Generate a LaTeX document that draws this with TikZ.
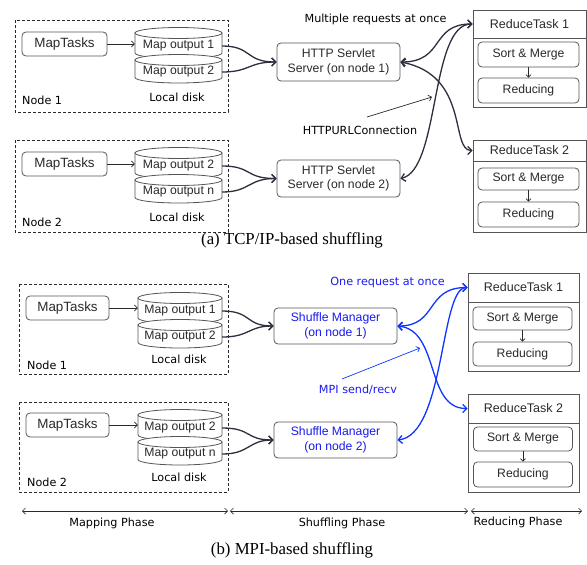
\documentclass[tikz,border=0pt]{standalone}
\usepackage{fontspec}
\setmainfont{Liberation Sans}
\newfontfamily\labfont{DejaVu Sans}
\newfontfamily\capfont{Liberation Serif}
\usetikzlibrary{arrows.meta}
\definecolor{ink}{HTML}{2A2A2A}
\definecolor{edge}{HTML}{555555}
\definecolor{curvecol}{HTML}{2E2E3E}
\definecolor{mpiblue}{HTML}{1035FF}
\definecolor{txtblue}{HTML}{1A1AF0}
\newcommand\dcyl[4]{%
  \draw[cylline] ({#1-#2},#3) -- ({#1-#2},#4) arc[start angle=180,end angle=360,x radius=#2pt,y radius=5.5pt] -- ({#1+#2},#3) -- cycle;
  \draw[cylline] (#1,#3) ellipse[x radius=#2pt,y radius=5.5pt];}
\begin{document}
\begin{tikzpicture}[x=1pt,y=-1pt,
  box/.style={draw=edge, line width=0.8pt, rounded corners=4pt, fill=white, inner sep=0pt, align=center, text=ink, font=\fontsize{12.2}{14.5}\selectfont},
  sqbox/.style={draw=edge, line width=0.8pt, fill=white, inner sep=0pt, text=ink, font=\fontsize{12.5}{15}\selectfont},
  dashbox/.style={draw=ink, dash pattern=on 3pt off 2pt, line width=0.8pt},
  cylline/.style={draw=edge, fill=white, line width=0.8pt},
  cyltext/.style={inner sep=0pt, text=ink, minimum height=12pt, font=\fontsize{12.2}{14.5}\selectfont},
  lab/.style={inner sep=0pt, text=black, font=\labfont\fontsize{11.2}{13}\selectfont},
  blab/.style={lab, text=txtblue},
  caption/.style={inner sep=0pt, text=black, font=\capfont\fontsize{16.8}{19}\selectfont},
  conn/.style={draw=curvecol, line width=1.3pt, -{Straight Barb[length=4pt,width=8pt]}},
  curv/.style={draw=curvecol, line width=1.3pt, {Straight Barb[length=4pt,width=8pt]}-{Straight Barb[length=4pt,width=8pt]}},
  bcurv/.style={draw=mpiblue, line width=1.3pt, {Straight Barb[length=4pt,width=8pt]}-{Straight Barb[length=4pt,width=8pt]}},
  thinarr/.style={draw=ink, line width=0.7pt, -{Straight Barb[length=3pt,width=6pt]}},
  smallarr/.style={draw=ink, line width=0.7pt, -{Straight Barb[length=2.5pt,width=5pt]}},
  phase/.style={draw=ink, line width=0.7pt, {Straight Barb[length=3pt,width=6pt]}-{Straight Barb[length=3pt,width=6pt]}}
]
\useasboundingbox (0,0) rectangle (587,565);

% ================= (a) =================
\draw[dashbox] (15,20) rectangle (228,112);
\node[box, minimum width=85pt, minimum height=24pt, font=\fontsize{13.4}{15}\selectfont] (ma1) at (64.5,44) {MapTasks};
\dcyl{178.5}{43.5}{33}{53}
\dcyl{178.5}{43.5}{60}{77.5}
\node[cyltext, minimum width=87pt] (oa11) at (178.5,46) {Map output 1};
\node[cyltext, minimum width=87pt] (oa12) at (178.5,72) {Map output 2};
\node[lab] (lda1) at (177,97) {Local disk};
\node[lab, anchor=west] (na1) at (22,100) {Node 1};
\draw[thinarr] (ma1.east) -- (ma1.east -| oa11.west);

\draw[dashbox] (15,140) rectangle (228,232);
\node[box, minimum width=85pt, minimum height=24pt, font=\fontsize{13.4}{15}\selectfont] (ma2) at (64.5,164) {MapTasks};
\dcyl{178.5}{43.5}{153}{173}
\dcyl{178.5}{43.5}{180}{197.5}
\node[cyltext, minimum width=87pt] (oa21) at (178.5,166) {Map output 2};
\node[cyltext, minimum width=87pt] (oa22) at (178.5,192) {Map output n};
\node[lab] (lda2) at (177,217) {Local disk};
\node[lab, anchor=west] (na2) at (22,222) {Node 2};
\draw[thinarr] (ma2.east) -- (ma2.east -| oa21.west);

\node[box, minimum width=123pt, minimum height=38pt] (sa1) at (338.5,62) {HTTP Servlet\\Server (on node 1)};
\node[box, minimum width=123pt, minimum height=37pt] (sa2) at (338.5,178.5) {HTTP Servlet\\Server (on node 2)};

\draw[draw=edge, line width=0.8pt] (473,10) rectangle (586,107);
\node[sqbox, minimum width=113pt, minimum height=28pt] (rha1) at (529.5,24) {ReduceTask 1};
\node[box, minimum width=101pt, minimum height=25pt] (sma1) at (528.5,54.5) {Sort \& Merge};
\node[box, minimum width=101pt, minimum height=25pt] (rda1) at (528.5,90.5) {Reducing};
\draw[smallarr] (sma1.south) -- (rda1.north);

\draw[draw=edge, line width=0.8pt] (473,140) rectangle (586,232);
\node[sqbox, minimum width=113pt, minimum height=21pt] (rha2) at (529.5,150.5) {ReduceTask 2};
\node[box, minimum width=101pt, minimum height=22pt] (sma2) at (528.5,179) {Sort \& Merge};
\node[box, minimum width=101pt, minimum height=25pt] (rda2) at (528.5,214.5) {Reducing};
\draw[smallarr] (sma2.south) -- (rda2.north);

\draw[conn] (oa11.east) .. controls (252,46) and (245,62) .. (sa1.west);
\draw[conn] (oa12.east) .. controls (250,72) and (248,62) .. (sa1.west);
\draw[conn] (oa21.east) .. controls (252,166) and (245,178.5) .. (sa2.west);
\draw[conn] (oa22.east) .. controls (250,192) and (248,178.5) .. (sa2.west);

\draw[curv] (sa1.east) .. controls (445,62) and (430,24) .. (rha1.west);
\draw[curv] (sa1.east) .. controls (470,75) and (450,150.5) .. (rha2.west);
\draw[curv] (sa2.east) .. controls (440,170) and (430,24) .. (rha1.west);

\node[lab] (mra) at (375.5,19) {Multiple requests at once};
\node[lab] (hup) at (360,130) {HTTPURLConnection};
\coordinate (hupa) at (367,117);
\coordinate (hupb) at (432,97);
\draw[thinarr] (hupa) -- (hupb);

\node[caption] (capa) at (292,240) {(a) TCP/IP-based shuffling};

% ================= (b) =================
\draw[dashbox] (19,284) rectangle (228,374);
\node[box, minimum width=83pt, minimum height=24pt, font=\fontsize{13.4}{15}\selectfont] (mb1) at (67.5,308) {MapTasks};
\dcyl{180}{42}{298}{318}
\dcyl{180}{42}{325}{342.5}
\node[cyltext, minimum width=84pt] (ob11) at (180,311) {Map output 1};
\node[cyltext, minimum width=84pt] (ob12) at (180,337) {Map output 2};
\node[lab] (ldb1) at (179,359) {Local disk};
\node[lab, anchor=west] (nb1) at (27,365) {Node 1};
\draw[thinarr] (mb1.east) -- (mb1.east -| ob11.west);

\draw[dashbox] (19,402) rectangle (228,492);
\node[box, minimum width=83pt, minimum height=24pt, font=\fontsize{13.4}{15}\selectfont] (mb2) at (67.5,425) {MapTasks};
\dcyl{180}{42}{415}{435}
\dcyl{180}{42}{442}{459.5}
\node[cyltext, minimum width=84pt] (ob21) at (180,428) {Map output 2};
\node[cyltext, minimum width=84pt] (ob22) at (180,454) {Map output n};
\node[lab] (ldb2) at (179,477) {Local disk};
\node[lab, anchor=west] (nb2) at (27,482) {Node 2};
\draw[thinarr] (mb2.east) -- (mb2.east -| ob21.west);

\node[box, minimum width=123pt, minimum height=36pt, text=txtblue] (sb1) at (335.5,326) {Shuffle Manager\\(on node 1)};
\node[box, minimum width=123pt, minimum height=36pt, text=txtblue] (sb2) at (335.5,440) {Shuffle Manager\\(on node 2)};

\draw[draw=edge, line width=0.8pt] (468,273) rectangle (579,371);
\node[sqbox, minimum width=111pt, minimum height=29pt] (rhb1) at (523.5,287.5) {ReduceTask 1};
\node[box, minimum width=99pt, minimum height=23pt] (smb1) at (522.5,318.5) {Sort \& Merge};
\node[box, minimum width=99pt, minimum height=24pt] (rdb1) at (522.5,354) {Reducing};
\draw[smallarr] (smb1.south) -- (rdb1.north);

\draw[draw=edge, line width=0.8pt] (468,394) rectangle (579,492);
\node[sqbox, minimum width=111pt, minimum height=29pt] (rhb2) at (523.5,408.5) {ReduceTask 2};
\node[box, minimum width=99pt, minimum height=24pt] (smb2) at (523,439) {Sort \& Merge};
\node[box, minimum width=99pt, minimum height=25pt] (rdb2) at (523,474.5) {Reducing};
\draw[smallarr] (smb2.south) -- (rdb2.north);

\draw[conn] (ob11.east) .. controls (252,311) and (245,326) .. (sb1.west);
\draw[conn] (ob12.east) .. controls (250,337) and (248,326) .. (sb1.west);
\draw[conn] (ob21.east) .. controls (252,428) and (245,440) .. (sb2.west);
\draw[conn] (ob22.east) .. controls (250,454) and (248,440) .. (sb2.west);

\draw[bcurv] (sb1.east) .. controls (438,326) and (425,287.5) .. (rhb1.west);
\draw[bcurv] (sb1.east) .. controls (440,330) and (425,408.5) .. (rhb2.west);
\draw[bcurv] (sb2.east) .. controls (445,435) and (440,287.5) .. (rhb1.west);

\node[blab] (ora) at (387.5,283) {One request at once};
\node[blab] (mpi) at (358,390) {MPI send/recv};
\coordinate (mpia) at (342,379);
\coordinate (mpib) at (420,348);
\draw[draw=mpiblue, line width=0.7pt, -{Straight Barb[length=3pt,width=6pt]}] (mpia) -- (mpib);

\coordinate (p0) at (22,511);
\coordinate (p1) at (228,511);
\coordinate (p2) at (230,511);
\coordinate (p3) at (468,511);
\coordinate (p4) at (471,511);
\coordinate (p5) at (582,511);
\draw[phase] (p0) -- (p1);
\draw[phase] (p2) -- (p3);
\draw[phase] (p4) -- (p5);
\node[lab] (mp) at (112,523) {Mapping Phase};
\node[lab] (sp) at (342,523) {Shuffling Phase};
\node[lab] (rp) at (518,522) {Reducing Phase};

\node[caption] (capb) at (292,550) {(b) MPI-based shuffling};
\end{tikzpicture}
\end{document}
